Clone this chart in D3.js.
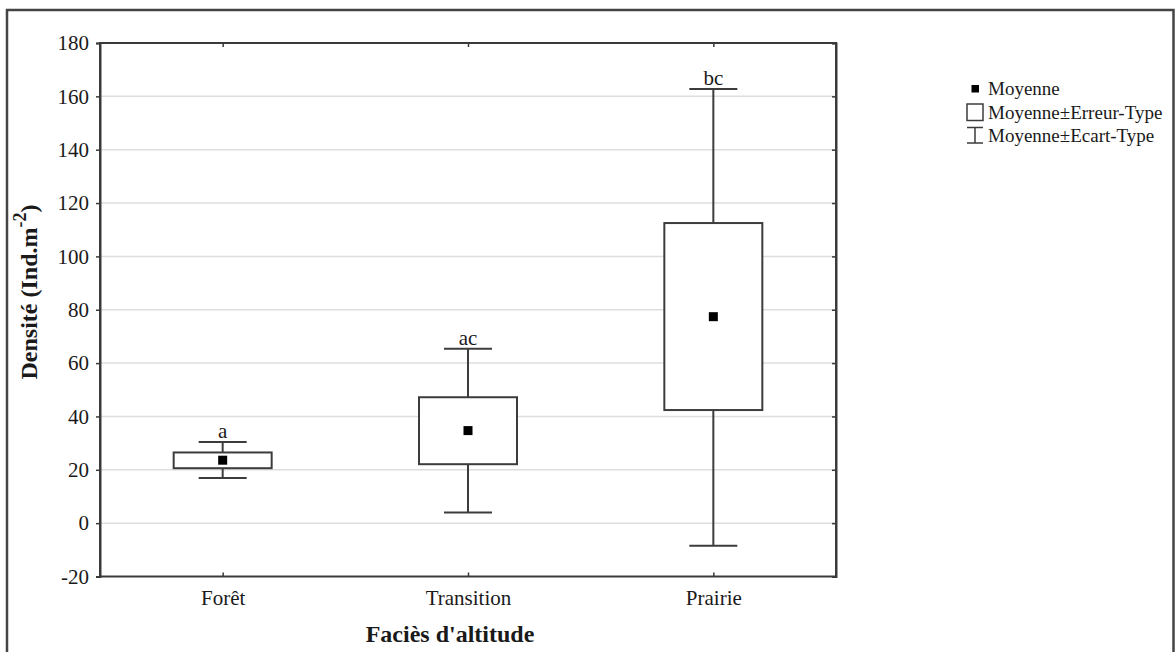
<!DOCTYPE html>
<html>
<head>
<meta charset="utf-8">
<script src="https://cdn.jsdelivr.net/npm/d3@7"></script>
<style>
  html, body { margin: 0; padding: 0; background: #fff; }
  svg { display: block; }
  text { font-family: "Liberation Serif", "Times New Roman", serif; fill: #1a1a1a; }
</style>
</head>
<body>
<svg id="chart" width="1175" height="652"></svg>
<script>
// Altitude facies and density summaries (Ind.m-2)
const categories = ["Forêt", "Transition", "Prairie"];
const means      = [23.6, 34.7, 77.4];
const seLow      = [20.6, 22.1, 42.4];   // mean - standard error
const seHigh     = [26.5, 47.2, 112.5];  // mean + standard error
const sdLow      = [16.9, 4.0, -8.5];    // mean - standard deviation
const sdHigh     = [30.4, 65.4, 162.8];  // mean + standard deviation
const groupLetters = ["a", "ac", "bc"];
const yTicks = [-20, 0, 20, 40, 60, 80, 100, 120, 140, 160, 180];
const legendLabels = ["Moyenne", "Moyenne±Erreur-Type", "Moyenne±Ecart-Type"];

const svg = d3.select("#chart");
const plot = { left: 100, right: 836, top: 43, bottom: 576.5 };
const frameColor = "#3a3a3a";

const x = d3.scalePoint().domain(categories).range([plot.left, plot.right]).padding(0.5);
const y = d3.scaleLinear().domain([-20, 180]).range([plot.bottom, plot.top]);

// outer frame (open at the bottom)
svg.append("path")
  .attr("d", `M7,652 L7,10 L1173.5,10 L1173.5,652`)
  .attr("fill", "none").attr("stroke", "#444").attr("stroke-width", 2.5);

// horizontal grid
svg.append("g").selectAll("line")
  .data(yTicks.filter(t => t > -20 && t < 180))
  .join("line")
  .attr("x1", plot.left).attr("x2", plot.right)
  .attr("y1", d => y(d)).attr("y2", d => y(d))
  .attr("stroke", "#dedede").attr("stroke-width", 1.5);

// axes
const gl = svg.append("g").attr("transform", `translate(${plot.left},0)`)
  .call(d3.axisLeft(y).tickValues(yTicks).tickSize(4).tickPadding(7).tickFormat(d => String(d)));
const gr = svg.append("g").attr("transform", `translate(${plot.right},0)`)
  .call(d3.axisRight(y).tickValues(yTicks).tickSize(-4).tickFormat(""));
const gb = svg.append("g").attr("transform", `translate(0,${plot.bottom})`)
  .call(d3.axisBottom(x).tickSize(-4).tickPadding(13.5));
const gt = svg.append("g").attr("transform", `translate(0,${plot.top})`)
  .call(d3.axisTop(x).tickSize(-4).tickFormat(""));

[gl, gr, gb, gt].forEach(g => {
  g.select(".domain").attr("stroke", frameColor).attr("stroke-width", 2);
  g.selectAll(".tick line").attr("stroke", frameColor).attr("stroke-width", 1.5);
  g.selectAll(".tick text").attr("fill", "#1a1a1a")
    .style("font-family", '"Liberation Serif", "Times New Roman", serif')
    .style("font-size", "21px");
});
[gb, gt].forEach(g => g.select(".domain").attr("d", null));
svg.append("rect")
  .attr("x", plot.left).attr("y", plot.top)
  .attr("width", plot.right - plot.left).attr("height", plot.bottom - plot.top)
  .attr("fill", "none").attr("stroke", frameColor).attr("stroke-width", 2);

// boxes and whiskers
const boxW = 98, capW = 48, markS = 9;
const groups = svg.append("g").selectAll("g")
  .data(categories.map((c, i) => ({ c, i })))
  .join("g");

const strokeC = "#3c3c3c";
groups.append("line")
  .attr("x1", d => x(d.c)).attr("x2", d => x(d.c))
  .attr("y1", d => y(sdHigh[d.i])).attr("y2", d => y(seHigh[d.i]))
  .attr("stroke", strokeC).attr("stroke-width", 2);
groups.append("line")
  .attr("x1", d => x(d.c)).attr("x2", d => x(d.c))
  .attr("y1", d => y(seLow[d.i])).attr("y2", d => y(sdLow[d.i]))
  .attr("stroke", strokeC).attr("stroke-width", 2);
groups.append("line")
  .attr("x1", d => x(d.c) - capW / 2).attr("x2", d => x(d.c) + capW / 2)
  .attr("y1", d => y(sdHigh[d.i])).attr("y2", d => y(sdHigh[d.i]))
  .attr("stroke", strokeC).attr("stroke-width", 2);
groups.append("line")
  .attr("x1", d => x(d.c) - capW / 2).attr("x2", d => x(d.c) + capW / 2)
  .attr("y1", d => y(sdLow[d.i])).attr("y2", d => y(sdLow[d.i]))
  .attr("stroke", strokeC).attr("stroke-width", 2);
groups.append("rect")
  .attr("x", d => x(d.c) - boxW / 2).attr("width", boxW)
  .attr("y", d => y(seHigh[d.i]))
  .attr("height", d => y(seLow[d.i]) - y(seHigh[d.i]))
  .attr("fill", "#fff").attr("stroke", strokeC).attr("stroke-width", 2);
groups.append("rect")
  .attr("x", d => x(d.c) - markS / 2).attr("y", d => y(means[d.i]) - markS / 2)
  .attr("width", markS).attr("height", markS).attr("fill", "#000");
groups.append("text")
  .attr("x", d => x(d.c)).attr("y", d => y(sdHigh[d.i]) - 4)
  .attr("text-anchor", "middle").style("font-size", "21px")
  .text(d => groupLetters[d.i]);

// axis titles
svg.append("text")
  .attr("x", 450).attr("y", 641.5).attr("text-anchor", "middle")
  .style("font-size", "24px").style("font-weight", "bold")
  .text("Faciès d'altitude");

const yl = svg.append("text")
  .attr("transform", "translate(37,292) rotate(-90)")
  .attr("text-anchor", "middle")
  .style("font-size", "24px").style("font-weight", "bold");
yl.append("tspan").text("Densité (Ind.m");
yl.append("tspan").attr("dy", -11).style("font-size", "18px").text("-2");
yl.append("tspan").attr("dy", 11).text(")");

// legend
const lg = svg.append("g");
const lx = 975, rows = [94.5, 118.5, 141.5];
lg.append("rect").attr("x", lx - 3.5).attr("y", rows[0] - 9.5).attr("width", 7.5).attr("height", 7.5).attr("fill", "#000");
lg.append("rect").attr("x", lx - 8).attr("y", rows[1] - 14.5).attr("width", 16).attr("height", 16.5)
  .attr("fill", "#fff").attr("stroke", strokeC).attr("stroke-width", 1.5);
lg.append("path")
  .attr("d", `M${lx - 8},${rows[2] - 14} H${lx + 8} M${lx},${rows[2] - 14} V${rows[2] + 1.5} M${lx - 8},${rows[2] + 1.5} H${lx + 8}`)
  .attr("fill", "none").attr("stroke", strokeC).attr("stroke-width", 1.5);
lg.selectAll("text").data(legendLabels).join("text")
  .attr("x", 988).attr("y", (d, i) => rows[i])
  .style("font-size", "19px")
  .text(d => d);
</script>
</body>
</html>
